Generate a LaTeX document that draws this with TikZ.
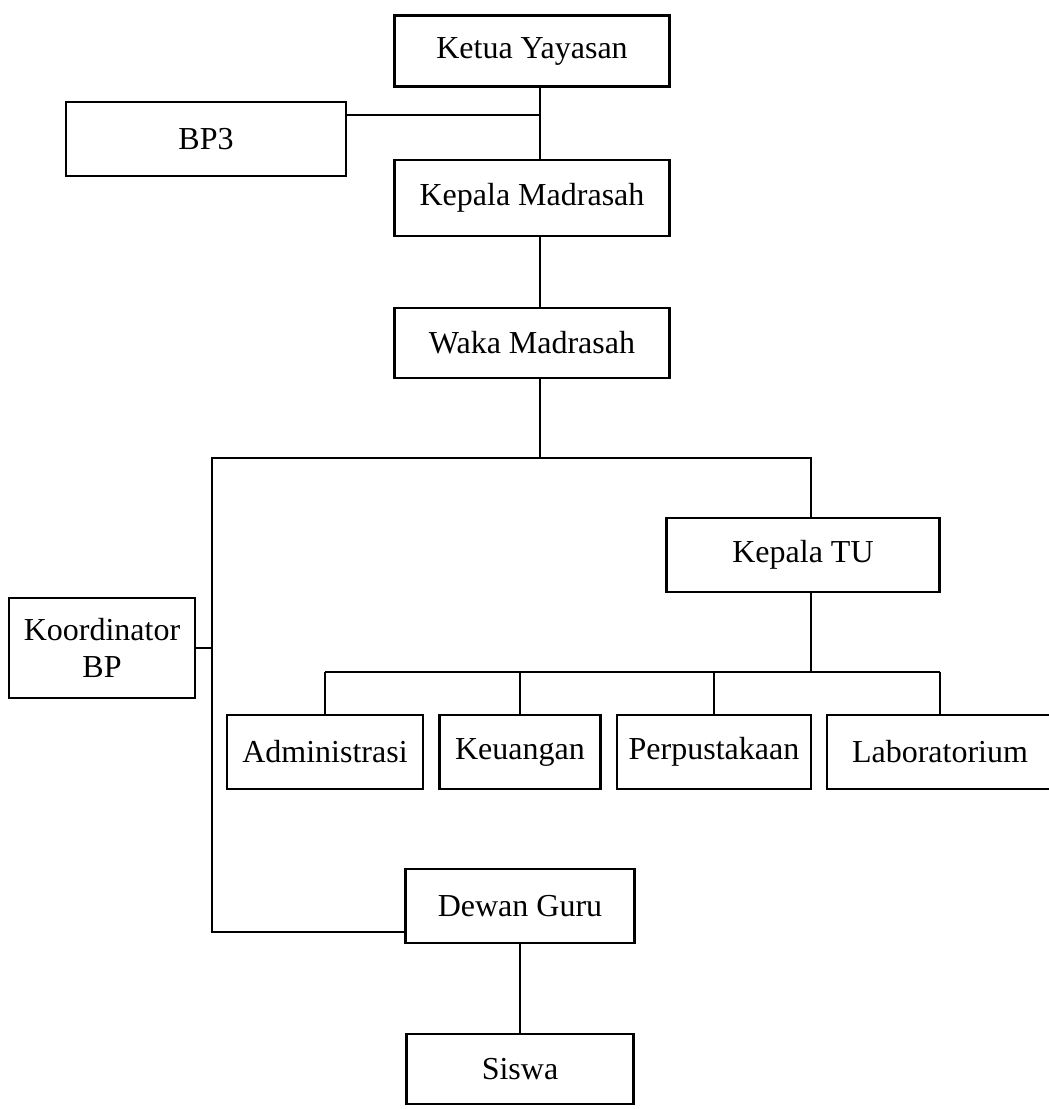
\documentclass[tikz,border=0pt]{standalone}
\usepackage{fontspec}
\setmainfont{Liberation Serif}

\begin{document}
\begin{tikzpicture}[x=0.5pt,y=-0.5pt,line width=1.1pt,
  box/.style={draw,inner sep=0pt,minimum height=37pt,align=center,
    font=\fontsize{16}{18.5}\selectfont}]
\useasboundingbox (0,0) rectangle (1049,1109);
\node[box,minimum width=137.5pt,minimum height=35.5pt] (ketua) at (532,51) {Ketua Yayasan};
\node[box,minimum width=140pt] (bp3) at (206,139) {BP3};
\node[box,minimum width=137.5pt,minimum height=38pt] (kmad) at (532,198) {Kepala Madrasah};
\node[box,minimum width=137.5pt,minimum height=35pt] (waka) at (532,343) {Waka Madrasah};
\node[box,minimum width=136.5pt] (ktu) at (803,555) {Kepala TU};
\node[box,minimum width=93pt,minimum height=50pt] (kbp) at (102,648) {Koordinator\\BP};
\node[box,minimum width=98pt] (adm) at (325,752) {Administrasi};
\node[box,minimum width=80.5pt] (keu) at (520,752) {Keuangan};
\node[box,minimum width=97pt] (per) at (714,752) {Perpustakaan};
\node[box,minimum width=113pt] (lab) at (940,752) {Laboratorium};
\node[box,minimum width=114.5pt] (dewan) at (520,906) {Dewan Guru};
\node[box,minimum width=113.5pt,minimum height=35pt] (siswa) at (520,1069) {Siswa};
\coordinate (j1) at (540,115);
\coordinate (j2) at (540,458);
\coordinate (j3) at (212,458);
\coordinate (j4) at (811,458);
\coordinate (j5) at (811,672);
\coordinate (j6) at (212,932);
\draw (ketua.south -| j1) -- (kmad.north -| j1);
\draw (bp3.east |- j1) -- (j1);
\draw (kmad.south -| j1) -- (waka.north -| j1);
\draw (waka.south -| j2) -- (j2);
\draw (ktu.north -| j4) -- (j4) -- (j3) -- (j6) -- (dewan.west |- j6);
\draw (kbp.east) -- (kbp.east -| j3);
\draw (ktu.south -| j5) -- (j5);
\draw (adm.north |- j5) -- (lab.north |- j5);
\foreach \n in {adm,keu,per,lab}
  \draw (\n.north) -- (\n.north |- j5);
\draw (dewan) -- (siswa);
\end{tikzpicture}
\end{document}
